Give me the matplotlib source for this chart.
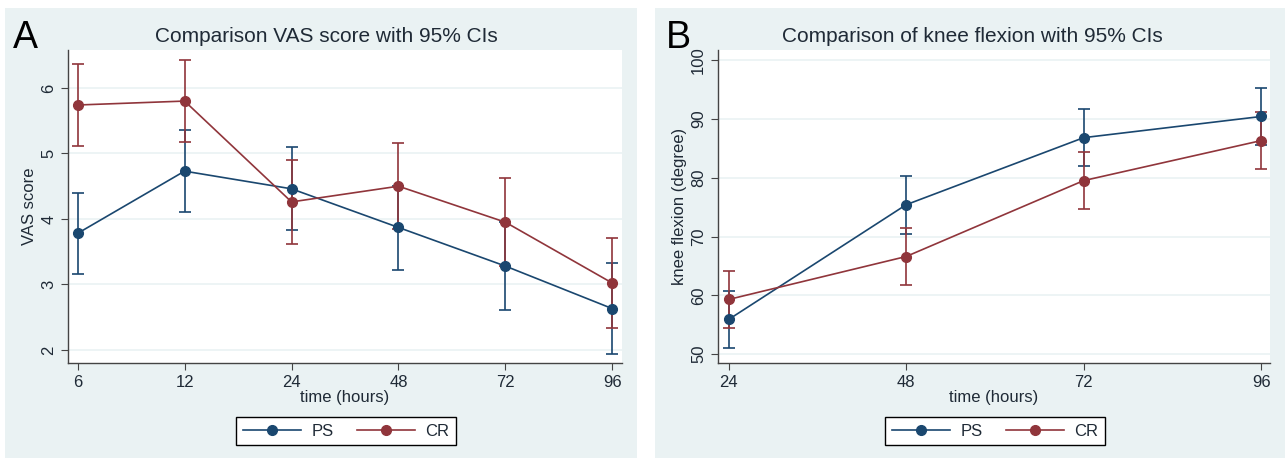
import matplotlib.pyplot as plt
from matplotlib.patches import Rectangle
from matplotlib.lines import Line2D

plt.rcParams["font.family"] = ["Liberation Sans", "DejaVu Sans"]

# panel A: VAS score
vas_times = ["6", "12", "24", "48", "72", "96"]
vas_ps = [3.78, 4.73, 4.46, 3.87, 3.28, 2.63]
vas_ps_lo = [3.16, 4.10, 3.83, 3.22, 2.61, 1.94]
vas_ps_hi = [4.40, 5.36, 5.10, 4.51, 3.95, 3.32]
vas_cr = [5.74, 5.80, 4.26, 4.50, 3.95, 3.02]
vas_cr_lo = [5.12, 5.17, 3.62, 3.84, 3.28, 2.33]
vas_cr_hi = [6.36, 6.43, 4.90, 5.16, 4.62, 3.71]

# panel B: knee flexion
kf_times = ["24", "48", "72", "96"]
kf_ps = [55.9, 75.4, 86.8, 90.4]
kf_ps_lo = [51.0, 70.5, 81.9, 85.5]
kf_ps_hi = [60.8, 80.3, 91.7, 95.3]
kf_cr = [59.3, 66.6, 79.5, 86.3]
kf_cr_lo = [54.4, 61.7, 74.6, 81.4]
kf_cr_hi = [64.2, 71.5, 84.4, 91.2]

NAVY = "#1a476f"
MAROON = "#90353b"
BG = "#eaf2f3"
TXT = "#1f2a36"
W, H = 1287, 461

fig = plt.figure(figsize=(W / 100, H / 100), dpi=100)
fig.patch.set_facecolor("white")


def px_axes(left, top, right, bottom):
    return fig.add_axes([left / W, 1 - bottom / H, (right - left) / W, (bottom - top) / H])


def panel_bg(left, top, right, bottom):
    fig.patches.append(Rectangle((left / W, 1 - bottom / H), (right - left) / W, (bottom - top) / H,
                                 transform=fig.transFigure, facecolor=BG, edgecolor="none", zorder=-5))


def draw(ax, labels, ps, ps_lo, ps_hi, cr, cr_lo, cr_hi):
    x = list(range(len(labels)))
    for vals, lo, hi, col in [(ps, ps_lo, ps_hi, NAVY), (cr, cr_lo, cr_hi, MAROON)]:
        err = [[v - l for v, l in zip(vals, lo)], [h - v for v, h in zip(vals, hi)]]
        ax.errorbar(x, vals, yerr=err, color=col, lw=1.2, marker="o", ms=7,
                    capsize=4, capthick=1.2, elinewidth=1.2, zorder=3)
    ax.set_xticks(x)
    ax.set_xticklabels(labels)
    ax.set_facecolor("white")
    for s in ["top", "right"]:
        ax.spines[s].set_visible(False)
    for s in ["left", "bottom"]:
        ax.spines[s].set_color("#444444")
        ax.spines[s].set_linewidth(1.0)
    ax.tick_params(colors="#444444", labelcolor=TXT, labelsize=12, length=5, direction="out")
    ax.grid(axis="y", color=BG, lw=1.2)
    ax.set_axisbelow(True)
    ax.set_xlabel("time (hours)", fontsize=12, color=TXT, labelpad=0)


panel_bg(5, 8, 637, 458)
panel_bg(655, 8, 1285, 458)

axA = px_axes(68, 50, 622, 363)
axA.set_ylim(1.8, 6.58)
axA.set_yticks([2, 3, 4, 5, 6])
axA.set_xlim(-0.09, 5.09)
draw(axA, vas_times, vas_ps, vas_ps_lo, vas_ps_hi, vas_cr, vas_cr_lo, vas_cr_hi)
axA.set_ylabel("VAS score", fontsize=12, color=TXT, labelpad=3)
axA.set_title("Comparison VAS score with 95% CIs", fontsize=15, color=TXT, pad=6, x=0.467)

axB = px_axes(718, 50, 1270, 363)
axB.set_ylim(48.5, 101.7)
axB.set_yticks([50, 60, 70, 80, 90, 100])
axB.set_xlim(-0.06, 3.05)
draw(axB, kf_times, kf_ps, kf_ps_lo, kf_ps_hi, kf_cr, kf_cr_lo, kf_cr_hi)
axB.set_ylabel("knee flexion (degree)", fontsize=12, color=TXT, labelpad=3)
axB.set_title("Comparison of knee flexion with 95% CIs", fontsize=15, color=TXT, pad=6, x=0.46)

for ax in [axA, axB]:
    for t in ax.get_yticklabels():
        t.set_rotation(90)
        t.set_va("center")

fig.text(13 / W, 1 - 48 / H, "A", fontsize=27, color="black")
fig.text(666 / W, 1 - 48 / H, "B", fontsize=27, color="black")

handles = [Line2D([], [], color=NAVY, marker="o", ms=7, lw=1.2),
           Line2D([], [], color=MAROON, marker="o", ms=7, lw=1.2)]
for cx in [346 / W, 995 / W]:
    leg = fig.legend(handles, ["PS", "CR"], loc="center", bbox_to_anchor=(cx, 1 - 431 / H),
                     ncol=2, fontsize=12, frameon=True, fancybox=False, handlelength=3.5,
                     columnspacing=1.4, borderpad=0.4, handletextpad=0.6, framealpha=1,
                     borderaxespad=0)
    leg.get_frame().set_edgecolor("black")
    leg.get_frame().set_linewidth(1.0)
    for t in leg.get_texts():
        t.set_color(TXT)

fig.savefig("out.png", dpi=100)
